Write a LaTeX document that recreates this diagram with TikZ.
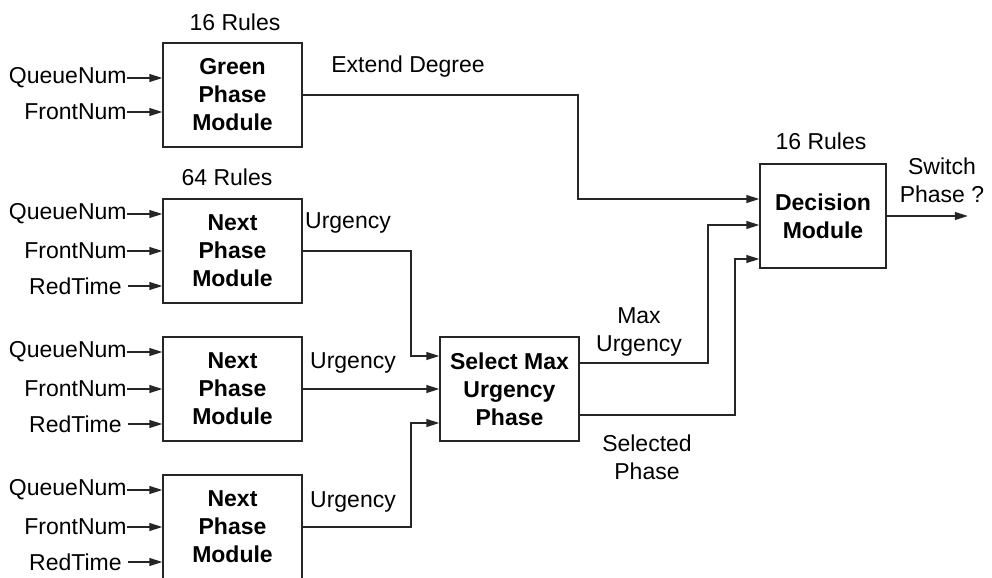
\documentclass[tikz,border=0pt]{standalone}
\usepackage{fontspec}
\setmainfont{Liberation Sans}
\usetikzlibrary{arrows.meta,calc}
\begin{document}
\begin{tikzpicture}[x=0.5pt,y=-0.5pt,
  txt/.style={inner sep=0pt, align=center, font=\fontsize{11.5}{14}\selectfont},
  modbox/.style={draw=black!85, line width=0.75pt, minimum width=69.5pt, minimum height=52pt, align=center, inner sep=0pt, font=\fontsize{11.5}{14}\selectfont\bfseries},
  wire/.style={draw=black!85, line width=0.75pt},
  arr/.style={wire, -{Triangle[length=6.5pt,width=4pt]}},
]
\useasboundingbox (0,0) rectangle (992,578);
\clip (0,0) rectangle (992,578);

% module boxes
\node[modbox] (green) at (232.5,95) {Green\\Phase\\Module};
\node[modbox] (np1) at (232.5,251) {Next\\Phase\\Module};
\node[modbox] (np2) at (232.5,389) {Next\\Phase\\Module};
\node[modbox] (np3) at (232.5,527) {Next\\Phase\\Module};
\node[modbox] (sel) at (509.5,389) {Select Max\\Urgency\\Phase};
\node[modbox, minimum width=63pt] (dec) at (823,216) {Decision\\Module};

% rule counts
\node[txt] (r16a) at (235,22) {16 Rules};
\node[txt] (r64) at (227,177) {64 Rules};
\node[txt] (r16b) at (821,141) {16 Rules};

% inputs of the green module
\node[txt, anchor=east] (gq) at (127,78) {QueueNum};
\node[txt, anchor=east] (gf) at (127,112) {FrontNum};
\draw[arr] (gq.east) -- (gq.east -| green.west);
\draw[arr] (gf.east) -- (gf.east -| green.west);

% inputs of the next phase modules
\foreach \m/\c in {np1/251, np2/389, np3/527} {
  \node[txt, anchor=east] (\m q) at (127,\c-37) {QueueNum};
  \node[txt, anchor=east] (\m f) at (127,\c) {FrontNum};
  \node[txt, anchor=east] (\m r) at (122,\c+35) {RedTime};
  \draw[arr] (\m q.east) -- (\m q.east -| \m.west);
  \draw[arr] (\m f.east) -- (\m f.east -| \m.west);
  \draw[arr] ([xshift=3pt]\m r.east) -- (\m r.east -| \m.west);
}

% green -> decision
\node[txt] (ext) at (408,67) {Extend Degree};
\draw[arr] (green.east) -- ++(275,0) |- ($(dec.west)+(0,-17)$);

% next phase -> select
\node[txt] (u1) at (348,223) {Urgency};
\node[txt] (u2) at (353,363) {Urgency};
\node[txt] (u3) at (353,502) {Urgency};
\draw[arr] (np1.east) -- ++(108,0) |- ($(sel.west)+(0,-33)$);
\draw[arr] (np2.east) -- (sel.west);
\draw[arr] (np3.east) -- ++(108,0) |- ($(sel.west)+(0,34)$);

% select -> decision
\node[txt] (mu) at (639,332) {Max\\Urgency};
\node[txt] (sp) at (647,457) {Selected\\Phase};
\draw[arr] ($(sel.east)+(0,-26)$) -- ++(128,0) |- ($(dec.west)+(0,9)$);
\draw[arr] ($(sel.east)+(0,26)$) -- ++(155,0) |- ($(dec.west)+(0,43)$);

% output
\node[txt] (sw) at (942,180) {Switch\\Phase ?};
\draw[arr] (dec.east) -- ++(81,0);
\end{tikzpicture}
\end{document}
